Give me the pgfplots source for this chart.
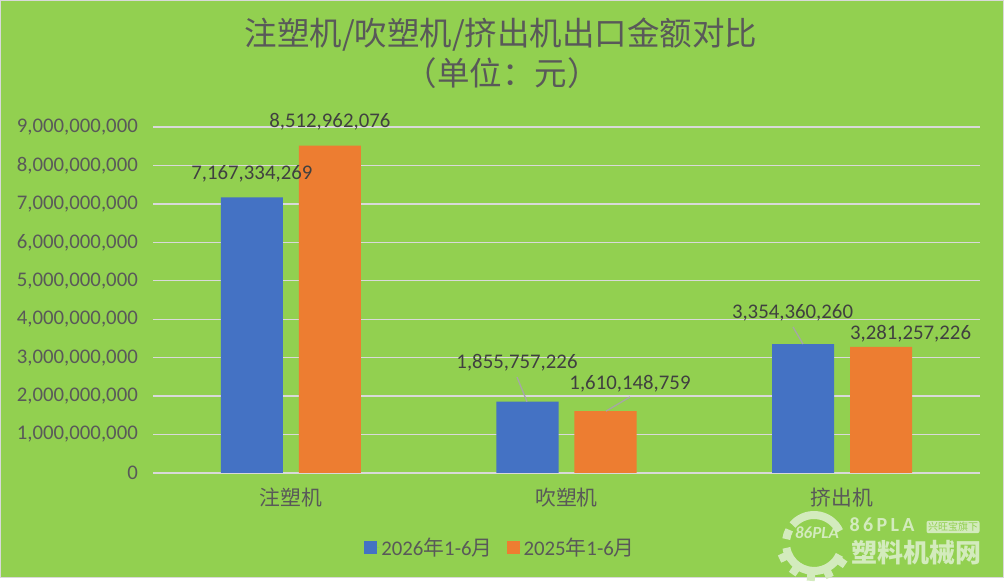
\documentclass[border=0pt]{standalone}
\usepackage{fontspec}
\setmainfont{Carlito}
\newfontfamily\cjk{Noto Sans CJK SC}
\usepackage{pgfplots}
\pgfplotsset{compat=1.18}

\definecolor{bg}{HTML}{92D050}
\definecolor{serA}{HTML}{4472C4}
\definecolor{serB}{HTML}{ED7D31}
\definecolor{gridc}{HTML}{D9D9D9}
\definecolor{txt}{HTML}{595959}
\definecolor{lbl}{HTML}{404040}
\definecolor{lead}{HTML}{A6A6A6}
\definecolor{wm}{HTML}{D3EBBD}

\tikzset{lab/.style={text=lbl, font=\fontsize{20.8}{24}\selectfont, yshift=-1.4pt}}

\begin{document}
\begin{tikzpicture}
% chart area
\fill[bg] (0,0) rectangle (1004pt,578pt);
\draw[gridc, line width=1pt] (0.5pt,0.5pt) rectangle (1003.5pt,577.5pt);

% title
\node[txt, font=\cjk\fontsize{32.5}{36}\selectfont] at (501pt,543pt) {注塑机/吹塑机/挤出机出口金额对比};
\node[txt, font=\cjk\fontsize{32.5}{36}\selectfont] at (502pt,505pt) {（单位：元）};

% site logo, lower right
\begin{scope}[wm]
  \draw[line width=8pt] (814pt,35pt) ++(25:28pt) arc[start angle=25, end angle=140, radius=28pt];
  \draw[line width=8pt] (814pt,35pt) ++(152:28pt) arc[start angle=152, end angle=172, radius=28pt];
  \draw[line width=8pt] (814pt,35pt) ++(190:28pt) arc[start angle=190, end angle=335, radius=28pt];
  \foreach \a in {205,235,265,295,325}
    \fill[rotate around={\a-270:(814pt,35pt)}] (810pt,35pt) ++(0,-38pt) rectangle ++(8pt,8pt);
  \node[font=\bfseries\itshape\fontsize{17}{18}\selectfont] at (817pt,45pt) {86PLA};
  \node[font=\bfseries\fontsize{20}{22}\selectfont] at (882pt,53pt) {8\,6\,P\,L\,A};
  \node[fill=wm, rounded corners=2pt, inner sep=1.5pt, text=bg, font=\cjk\fontsize{10}{11}\selectfont] at (953pt,51pt) {兴旺宝旗下};
  \node[font=\cjk\bfseries\fontsize{26}{28}\selectfont] at (916pt,25pt) {塑料机械网};
\end{scope}

\begin{axis}[
  at={(153pt,105pt)}, anchor=south west,
  scale only axis, width=827pt, height=346pt,
  xmin=-0.5, xmax=2.5, ymin=0, ymax=9000000000,
  axis line style={draw=none},
  ymajorgrids, grid style={gridc, line width=1.3pt},
  major tick length=0pt,
  scaled y ticks=false,
  xtick={0,1,2},
  xticklabels={注塑机,吹塑机,挤出机},
  xticklabel style={font=\cjk\fontsize{20.8}{24}\selectfont, text=txt, anchor=center, yshift=-25pt},
  ytick={0,1000000000,2000000000,3000000000,4000000000,5000000000,6000000000,7000000000,8000000000,9000000000},
  yticklabels={0,{1,000,000,000},{2,000,000,000},{3,000,000,000},{4,000,000,000},{5,000,000,000},{6,000,000,000},{7,000,000,000},{8,000,000,000},{9,000,000,000}},
  yticklabel style={font=\fontsize{20.8}{24}\selectfont, text=txt, anchor=east, inner sep=0pt, xshift=-15pt},
  ybar, bar width=0.225,
  clip=false,
  legend columns=2,
  legend style={at={(0.4202,-0.2139)}, anchor=center, draw=none, fill=none,
    font=\fontsize{20.8}{24}\selectfont, text=txt,
    /tikz/every even column/.append style={column sep=12pt}},
  legend image code/.code={\fill[#1] (0pt,-6.5pt) rectangle (13pt,6.5pt); \path (0pt,0pt) -- (15pt,0pt);},
]
\addplot[fill=serA, draw=none, bar shift=-0.1415] coordinates {(0,7167334269) (1,1855757226) (2,3354360260)};
\addplot[fill=serB, draw=none, bar shift=0.1415] coordinates {(0,8512962076) (1,1610148759) (2,3281257226)};
\legend{2026{\cjk 年}1-6{\cjk 月}, 2025{\cjk 年}1-6{\cjk 月}}

% value labels
\node[lab, yshift=25.5pt] at (axis cs:-0.1415,7167334269) {7,167,334,269};
\node[lab, yshift=25.5pt] at (axis cs:0.1415,8512962076) {8,512,962,076};
\node[lab] at (axis cs:0.8204,2900700000) {1,855,757,226};
\node[lab] at (axis cs:1.2303,2354000000) {1,610,148,759};
\node[lab] at (axis cs:1.8198,4214000000) {3,354,360,260};
\node[lab] at (axis cs:2.2479,3668000000) {3,281,257,226};

% leader lines
\draw[lead, line width=1.3pt] (axis cs:0.8204,2497000000) -- (axis cs:0.8567,1855757226);
\draw[lead, line width=1.3pt] (axis cs:1.2303,1977000000) -- (axis cs:1.1433,1610148759);
\draw[lead, line width=1.3pt] (axis cs:1.8216,3798000000) -- (axis cs:1.8580,3354360260);
\end{axis}
\end{tikzpicture}
\end{document}
